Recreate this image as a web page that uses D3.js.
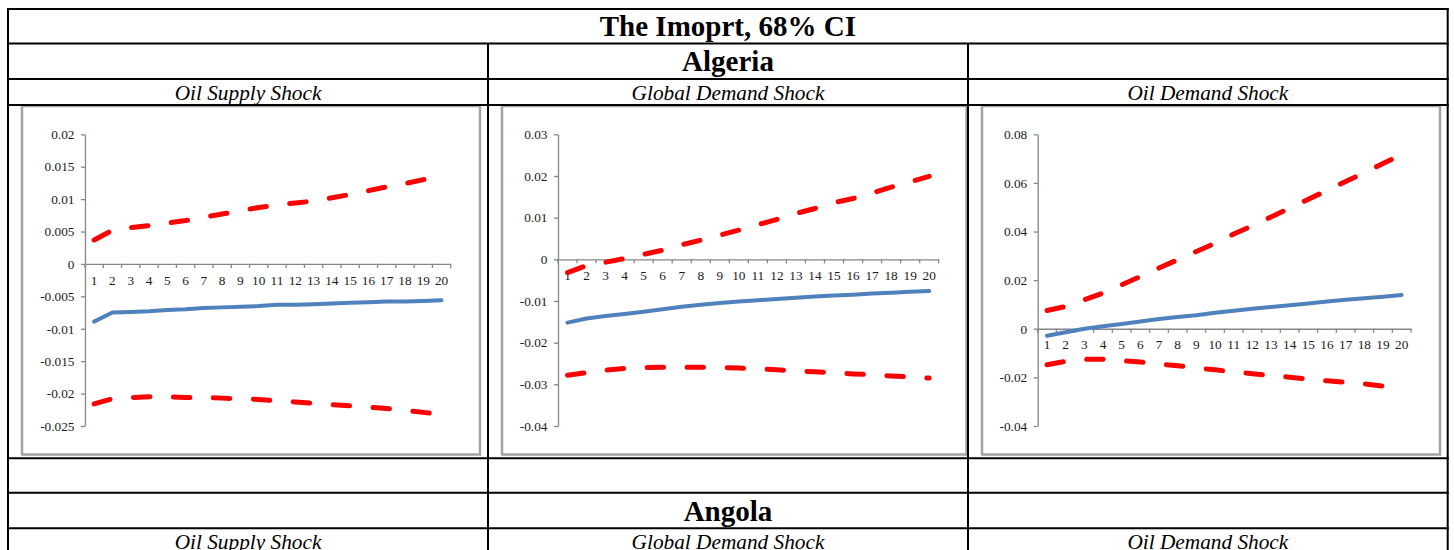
<!DOCTYPE html>
<html>
<head>
<meta charset="utf-8">
<script src="https://cdn.jsdelivr.net/npm/d3@7"></script>
<style>
  html, body { margin: 0; padding: 0; background: #fff; }
  svg { display: block; }
</style>
</head>
<body>
<svg id="chart" width="1454" height="550"></svg>
<script>
// ---------------- DATA ----------------
const mainTitle = "The Imoprt, 68% CI";
const countries = ["Algeria", "Angola"];
const shockNames = ["Oil Supply Shock", "Global Demand Shock", "Oil Demand Shock"];
const periods = [1,2,3,4,5,6,7,8,9,10,11,12,13,14,15,16,17,18,19,20];

// Oil Supply Shock (Algeria)
const supplyUpper  = [0.0037, 0.0052, 0.0056, 0.0059, 0.0063, 0.0067, 0.0072, 0.0077, 0.0082, 0.0087, 0.0091, 0.0094, 0.0097, 0.0102, 0.0107, 0.0113, 0.0119, 0.0124, 0.0130, 0.0134];
const supplyMedian = [-0.0089, -0.0075, -0.0074, -0.0073, -0.0071, -0.0070, -0.0068, -0.0067, -0.0066, -0.0065, -0.0063, -0.0063, -0.0062, -0.0061, -0.0060, -0.0059, -0.0058, -0.0058, -0.0057, -0.0056];
const supplyLower  = [-0.0216, -0.0208, -0.0206, -0.0205, -0.0205, -0.0206, -0.0206, -0.0207, -0.0208, -0.0209, -0.0211, -0.0213, -0.0215, -0.0217, -0.0219, -0.0221, -0.0223, -0.0226, -0.0229, -0.0232];
const supplyTicks  = [0.02, 0.015, 0.01, 0.005, 0, -0.005, -0.01, -0.015, -0.02, -0.025];
const supplyTickLabels = ["0.02", "0.015", "0.01", "0.005", "0", "-0.005", "-0.01", "-0.015", "-0.02", "-0.025"];

// Global Demand Shock (Algeria)
const globalUpper  = [-0.0032, -0.0015, -0.0007, 0.0002, 0.0012, 0.0022, 0.0035, 0.0046, 0.0058, 0.0070, 0.0083, 0.0096, 0.0110, 0.0122, 0.0136, 0.0146, 0.0159, 0.0173, 0.0186, 0.0199];
const globalMedian = [-0.0152, -0.0142, -0.0136, -0.0131, -0.0126, -0.0120, -0.0114, -0.0109, -0.0105, -0.0101, -0.0098, -0.0095, -0.0092, -0.0089, -0.0087, -0.0085, -0.0082, -0.0080, -0.0078, -0.0076];
const globalLower  = [-0.0278, -0.0272, -0.0266, -0.0262, -0.0260, -0.0259, -0.0259, -0.0259, -0.0260, -0.0261, -0.0263, -0.0265, -0.0268, -0.0270, -0.0272, -0.0275, -0.0277, -0.0280, -0.0282, -0.0285];
const globalTicks  = [0.03, 0.02, 0.01, 0, -0.01, -0.02, -0.03, -0.04];
const globalTickLabels = ["0.03", "0.02", "0.01", "0", "-0.01", "-0.02", "-0.03", "-0.04"];

// Oil Demand Shock (Algeria)
const demandUpper  = [0.0075, 0.0092, 0.0119, 0.0147, 0.0181, 0.0215, 0.0250, 0.0284, 0.0318, 0.0352, 0.0390, 0.0424, 0.0460, 0.0496, 0.0533, 0.0569, 0.0606, 0.0642, 0.0680, 0.0716];
const demandMedian = [-0.0029, -0.0014, 0.0000, 0.0010, 0.0020, 0.0030, 0.0040, 0.0048, 0.0056, 0.0066, 0.0074, 0.0082, 0.0090, 0.0097, 0.0104, 0.0112, 0.0119, 0.0126, 0.0132, 0.0139];
const demandLower  = [-0.0148, -0.0134, -0.0126, -0.0125, -0.0131, -0.0137, -0.0145, -0.0152, -0.0161, -0.0169, -0.0177, -0.0185, -0.0192, -0.0199, -0.0207, -0.0214, -0.0220, -0.0227, -0.0236, -0.0245];
const demandTicks  = [0.08, 0.06, 0.04, 0.02, 0, -0.02, -0.04];
const demandTickLabels = ["0.08", "0.06", "0.04", "0.02", "0", "-0.02", "-0.04"];

// ---------------- LAYOUT ----------------
const svg = d3.select("#chart");
const serif = "'Liberation Serif', 'Times New Roman', serif";
const colX = [8, 488, 968, 1447.7];
const rowY = [9, 43.5, 79, 105, 458.3, 492.7, 528.3];

const panels = [
  { upper: supplyUpper, median: supplyMedian, lower: supplyLower, ticks: supplyTicks, labels: supplyTickLabels,
    frame: [22, 106, 480, 454.5], axisX: 85, right: 450.7 },
  { upper: globalUpper, median: globalMedian, lower: globalLower, ticks: globalTicks, labels: globalTickLabels,
    frame: [502, 106, 966.5, 454.5], axisX: 558, right: 938.7 },
  { upper: demandUpper, median: demandMedian, lower: demandLower, ticks: demandTicks, labels: demandTickLabels,
    frame: [982, 106, 1440, 454.5], axisX: 1037.7, right: 1411 }
];
const plotTop = 134.3, plotBottom = 426;

panels.forEach(p => {
  const g = svg.append("g");
  // chart frame
  g.append("rect")
    .attr("x", p.frame[0]).attr("y", p.frame[1])
    .attr("width", p.frame[2] - p.frame[0]).attr("height", p.frame[3] - p.frame[1])
    .attr("fill", "#fff").attr("stroke", "#a3a3a3").attr("stroke-width", 2.5);

  const x = d3.scaleBand().domain(periods).range([p.axisX, p.right]).padding(0);
  const y = d3.scaleLinear().domain([d3.min(p.ticks), d3.max(p.ticks)]).range([plotBottom, plotTop]);
  const bw = x.bandwidth();

  // y axis
  const yAxis = d3.axisLeft(y).tickValues(p.ticks)
    .tickFormat((d, i) => p.labels[i]).tickSize(4).tickPadding(6.5).tickSizeOuter(0);
  const ya = g.append("g").attr("transform", `translate(${p.axisX},0)`).call(yAxis);
  ya.select(".domain").attr("stroke", "#868686").attr("stroke-width", 1.3);
  ya.selectAll(".tick line").attr("stroke", "#868686").attr("stroke-width", 1.3);
  ya.selectAll(".tick text").attr("font-family", serif).attr("font-size", 13.3).attr("fill", "#1a1a1a");

  // x axis at zero
  const y0 = y(0);
  const xa = g.append("g").attr("transform", `translate(0,${y0})`)
    .call(d3.axisBottom(x).tickSize(0).tickPadding(0).tickSizeOuter(0));
  xa.select(".domain").attr("stroke", "#868686").attr("stroke-width", 1.3);
  xa.selectAll(".tick text").attr("font-family", serif).attr("font-size", 13.3).attr("fill", "#1a1a1a")
    .attr("dy", null).attr("y", 20.7);
  // boundary ticks (between categories)
  const bounds = periods.map(c => x(c)).concat([x(periods[periods.length - 1]) + bw]);
  g.append("g").selectAll("line").data(bounds).join("line")
    .attr("x1", d => d).attr("x2", d => d).attr("y1", y0).attr("y2", y0 + 4)
    .attr("stroke", "#868686").attr("stroke-width", 1.3);

  const line = d3.line().x((d, i) => x(periods[i]) + bw / 2).y(d => y(d));

  g.append("path").datum(p.median).attr("d", line)
    .attr("fill", "none").attr("stroke", "#4f81bd").attr("stroke-width", 4)
    .attr("stroke-linecap", "round").attr("stroke-linejoin", "round");
  [p.upper, p.lower].forEach(s => {
    g.append("path").datum(s).attr("d", line)
      .attr("fill", "none").attr("stroke", "#ff0000").attr("stroke-width", 5)
      .attr("stroke-dasharray", "16.5,23.5")
      .attr("stroke-linecap", "round").attr("stroke-linejoin", "round");
  });
});

// ---------------- TABLE GRID ----------------
const grid = svg.append("g").attr("stroke", "#000").attr("stroke-width", 2).attr("fill", "none");
rowY.forEach(yy => grid.append("line").attr("x1", colX[0] - 1).attr("x2", colX[3] + 1).attr("y1", yy).attr("y2", yy));
// outer verticals
[colX[0], colX[3]].forEach(xx => grid.append("line").attr("x1", xx).attr("x2", xx).attr("y1", rowY[0] - 1).attr("y2", 550));
// inner verticals (not in title row)
[colX[1], colX[2]].forEach(xx => grid.append("line").attr("x1", xx).attr("x2", xx).attr("y1", rowY[1]).attr("y2", 550));

// ---------------- TEXT ----------------
svg.append("text").attr("x", (colX[0] + colX[3]) / 2).attr("y", 36)
  .attr("text-anchor", "middle").attr("font-family", serif).attr("font-weight", "bold")
  .attr("font-size", 29).text(mainTitle);

const midX = (colX[1] + colX[2]) / 2;
svg.append("text").attr("x", midX).attr("y", 71).attr("text-anchor", "middle")
  .attr("font-family", serif).attr("font-weight", "bold").attr("font-size", 29).text(countries[0]);
svg.append("text").attr("x", midX).attr("y", 520.5).attr("text-anchor", "middle")
  .attr("font-family", serif).attr("font-weight", "bold").attr("font-size", 29).text(countries[1]);

[99.5, 548.5].forEach(by => {
  shockNames.forEach((s, i) => {
    svg.append("text").attr("x", (colX[i] + colX[i + 1]) / 2).attr("y", by)
      .attr("text-anchor", "middle").attr("font-family", serif).attr("font-style", "italic")
      .attr("font-size", 21.3).text(s);
  });
});
</script>
</body>
</html>
